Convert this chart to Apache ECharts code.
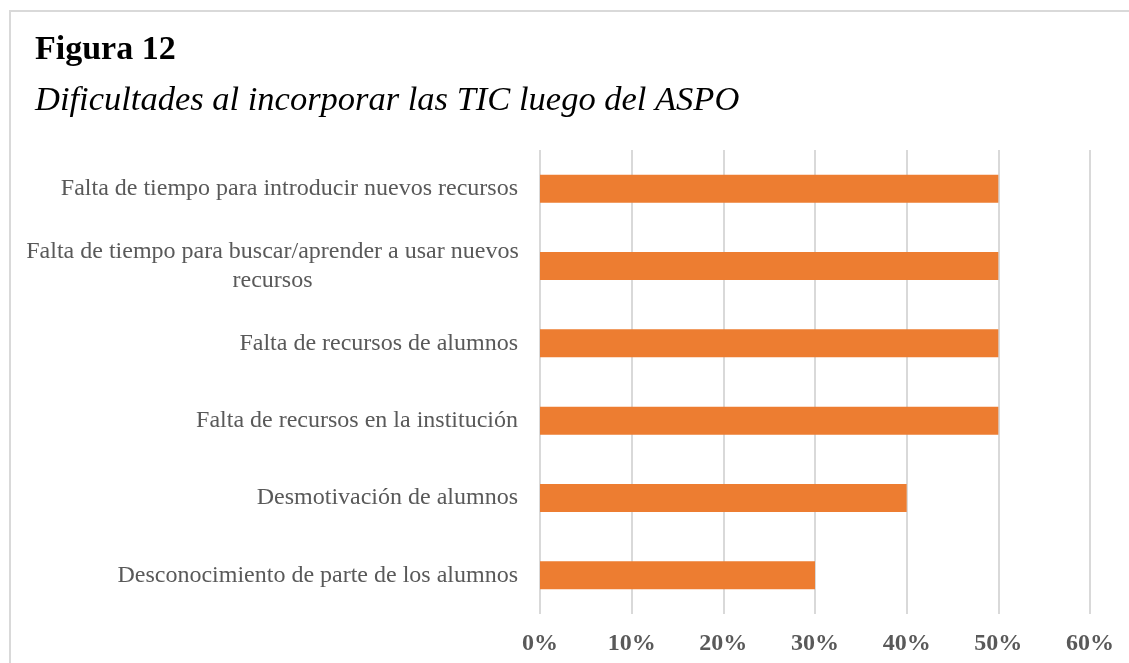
<!DOCTYPE html>
<html>
<head>
<meta charset="utf-8">
<script src="https://cdn.jsdelivr.net/npm/echarts@6/dist/echarts.min.js"></script>
<style>
	html, body { margin: 0; padding: 0; background: #fff; }
	#frame { position: absolute; left: 9px; top: 10px; width: 1120px; height: 653px;
		border-top: 2px solid #d9d9d9; border-left: 2px solid #d9d9d9; box-sizing: border-box; }
	#chart { position: absolute; left: 0; top: 0; width: 1129px; height: 663px; }
</style>
</head>
<body>
<div id="frame"></div>
<div id="chart"></div>
<script>
// datos (de abajo hacia arriba)
var categorias = [
	'Desconocimiento de parte de los alumnos',
	'Desmotivación de alumnos',
	'Falta de recursos en la institución',
	'Falta de recursos de alumnos',
	'Falta de tiempo para buscar/aprender a usar nuevos\nrecursos',
	'Falta de tiempo para introducir nuevos recursos'
];
var valores = [30, 40, 50, 50, 50, 50];
var ticks = [0, 10, 20, 30, 40, 50, 60];

var serif = "'Liberation Serif', 'Times New Roman', serif";
var chart = echarts.init(document.getElementById('chart'));

// etiqueta de dos lineas centrada como en el original
var ejeDatos = categorias.map(function (c) {
	if (c.indexOf('\n') >= 0) {
		return { value: c, textStyle: { align: 'center', padding: [0, 491, 0, 0] } };
	}
	return c;
});

chart.setOption({
	animation: false,
	title: [
		{
			text: 'Figura 12', left: 30, top: 28,
			textStyle: { fontFamily: serif, fontWeight: 'bold', fontSize: 34, color: '#000' }
		},
		{
			text: 'Dificultades al incorporar las TIC luego del ASPO', left: 30, top: 78,
			textStyle: { fontFamily: serif, fontStyle: 'italic', fontWeight: 'normal', fontSize: 34.5, color: '#000' }
		}
	],
	grid: { left: 540, right: 39, top: 150, bottom: 49, containLabel: false },
	xAxis: {
		type: 'value',
		min: ticks[0], max: ticks[ticks.length - 1], interval: ticks[1] - ticks[0],
		axisLine: { show: false },
		axisTick: { show: false },
		splitLine: { show: true, lineStyle: { color: '#d9d9d9', width: 2 } },
		axisLabel: {
			margin: 18,
			color: '#595959',
			fontFamily: serif,
			fontWeight: 'bold',
			fontSize: 24,
			formatter: '{value}%'
		}
	},
	yAxis: {
		type: 'category',
		data: ejeDatos,
		axisLine: { show: false },
		axisTick: { show: false },
		splitLine: { show: false },
		axisLabel: {
			margin: 22,
			color: '#595959',
			fontFamily: serif,
			fontSize: 24,
			lineHeight: 29
		}
	},
	series: [
		{
			type: 'bar',
			data: valores,
			barWidth: 28,
			itemStyle: { color: '#ED7D31' }
		}
	]
});
</script>
</body>
</html>
